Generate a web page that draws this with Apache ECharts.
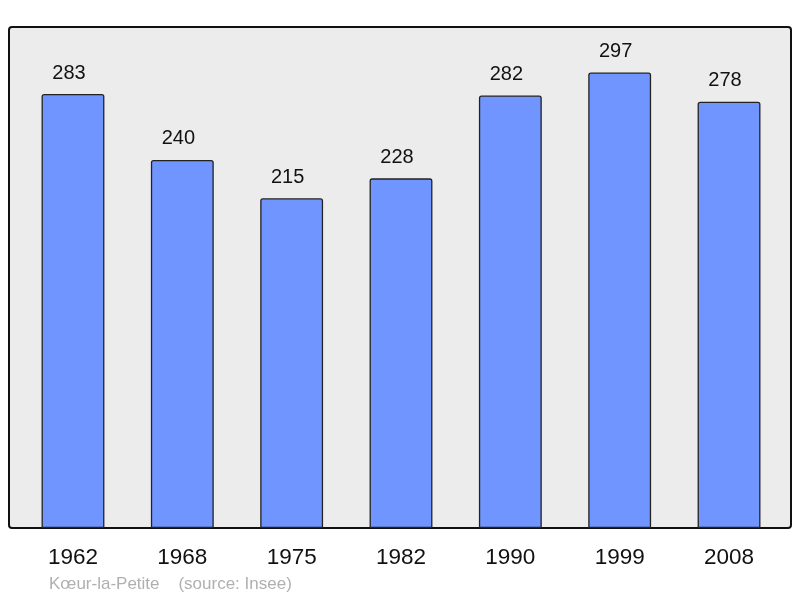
<!DOCTYPE html>
<html><head><meta charset="utf-8">
<script src="https://cdn.jsdelivr.net/npm/echarts@6/dist/echarts.min.js"></script>
<style>html,body{margin:0;padding:0;background:#fff}#c{width:800px;height:598px}</style>
</head><body><div id="c"></div>
<script>
const years = ['1962','1968','1975','1982','1990','1999','2008'];
const population = [283, 240, 215, 228, 282, 297, 278];
const sourceText = 'Kœur-la-Petite    (source: Insee)';

const chart = echarts.init(document.getElementById('c'), null, {renderer:'canvas'});
const maxVal = Math.max(...population) * 1.1;
chart.setOption({
  animation: false,
  textStyle: {fontFamily: 'Liberation Sans, Arial, sans-serif'},
  graphic: [
    {type:'rect', z:-10, shape:{x:9, y:27, width:782, height:501, r:3},
     style:{fill:'#ececec', stroke:'#111', lineWidth:2}},
    {type:'text', left:49, top:575.5, style:{text:sourceText, fill:'#b0b0b0', font:'17px "Liberation Sans", Arial, sans-serif'}}
  ],
  grid: {left:18.3, right:16.3, top:27, bottom:70},
  xAxis: {
    type:'category', data: years,
    axisLine:{show:false}, axisTick:{show:false},
    axisLabel:{color:'#111', fontSize:22.5, margin:18}
  },
  yAxis: {
    type:'value', min:0, max:maxVal, show:false, splitLine:{show:false}
  },
  series: [{
    type:'bar', data: population, barCategoryGap:'42.5%',
    itemStyle:{color:'#7095ff', borderColor:'#222', borderWidth:1.3, borderRadius:[2,2,0,0]},
    label:{show:true, position:'top', distance:11, offset:[-4,0], color:'#111', fontSize:20}
  }]
});
</script></body></html>
